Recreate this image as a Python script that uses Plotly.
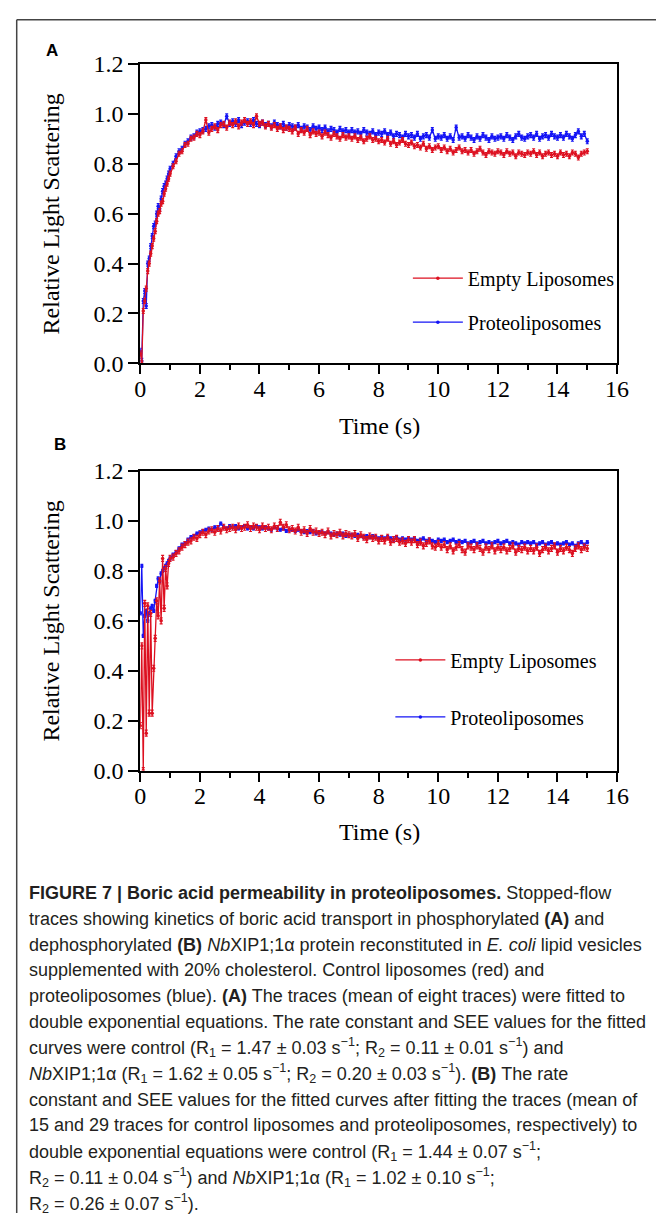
import plotly.graph_objects as go

# ---------------- data ----------------
time_s = [0.00, 0.05, 0.10, 0.15, 0.20, 0.25, 0.30, 0.35, 0.40, 0.45, 0.50,
          0.55, 0.60, 0.65, 0.70, 0.75, 0.80, 0.85, 0.90, 0.95, 1.00,
          1.1, 1.2, 1.3, 1.4, 1.5, 1.6, 1.7, 1.8, 1.9, 2.0,
          2.1, 2.2, 2.3, 2.4, 2.5, 2.6, 2.7, 2.8, 2.9, 3.0,
          3.1, 3.2, 3.3, 3.4, 3.5, 3.6, 3.7, 3.8, 3.9, 4.0,
          4.1, 4.2, 4.3, 4.4, 4.5, 4.6, 4.7, 4.8, 4.9, 5.0,
          5.1, 5.2, 5.3, 5.4, 5.5, 5.6, 5.7, 5.8, 5.9, 6.0,
          6.1, 6.2, 6.3, 6.4, 6.5, 6.6, 6.7, 6.8, 6.9, 7.0,
          7.1, 7.2, 7.3, 7.4, 7.5, 7.6, 7.7, 7.8, 7.9, 8.0,
          8.1, 8.2, 8.3, 8.4, 8.5, 8.6, 8.7, 8.8, 8.9, 9.0,
          9.1, 9.2, 9.3, 9.4, 9.5, 9.6, 9.7, 9.8, 9.9, 10.0,
          10.1, 10.2, 10.3, 10.4, 10.5, 10.6, 10.7, 10.8, 10.9, 11.0,
          11.1, 11.2, 11.3, 11.4, 11.5, 11.6, 11.7, 11.8, 11.9, 12.0,
          12.1, 12.2, 12.3, 12.4, 12.5, 12.6, 12.7, 12.8, 12.9, 13.0,
          13.1, 13.2, 13.3, 13.4, 13.5, 13.6, 13.7, 13.8, 13.9, 14.0,
          14.1, 14.2, 14.3, 14.4, 14.5, 14.6, 14.7, 14.8, 14.9, 15.0]

# Panel A
a_empty = [0.04, 0.00, 0.21, 0.25, 0.30, 0.37, 0.40, 0.44, 0.47, 0.50, 0.53,
           0.57, 0.60, 0.61, 0.64, 0.65, 0.68, 0.70, 0.72, 0.74, 0.76,
           0.79, 0.81, 0.84, 0.85, 0.875, 0.88, 0.90, 0.905, 0.92, 0.915,
           0.93, 0.975, 0.925, 0.94, 0.95, 0.935, 0.955, 0.96, 0.945, 0.965,
           0.955, 0.97, 0.95, 0.965, 0.975, 0.96, 0.97, 0.955, 0.99, 0.96,
           0.965, 0.95, 0.96, 0.945, 0.955, 0.94, 0.95, 0.935, 0.945, 0.94,
           0.93, 0.945, 0.92, 0.935, 0.925, 0.94, 0.915, 0.93, 0.92, 0.925,
           0.91, 0.925, 0.915, 0.905, 0.92, 0.91, 0.90, 0.915, 0.905, 0.91,
           0.90, 0.91, 0.895, 0.905, 0.89, 0.90, 0.91, 0.895, 0.90, 0.89,
           0.895, 0.885, 0.90, 0.88, 0.89, 0.875, 0.885, 0.895, 0.88, 0.875,
           0.885, 0.87, 0.875, 0.865, 0.88, 0.86, 0.87, 0.855, 0.865, 0.87,
           0.855, 0.865, 0.85, 0.86, 0.845, 0.855, 0.865, 0.85, 0.855, 0.845,
           0.855, 0.84, 0.85, 0.86, 0.845, 0.835, 0.85, 0.845, 0.84, 0.85,
           0.845, 0.835, 0.85, 0.84, 0.845, 0.83, 0.845, 0.84, 0.835, 0.845,
           0.84, 0.85, 0.835, 0.845, 0.83, 0.84, 0.845, 0.835, 0.84, 0.83,
           0.845, 0.835, 0.84, 0.83, 0.845, 0.84, 0.825, 0.84, 0.845, 0.85]
a_proteo = [0.05, 0.01, 0.25, 0.29, 0.23, 0.40, 0.42, 0.47, 0.51, 0.55, 0.56,
            0.60, 0.63, 0.62, 0.66, 0.69, 0.71, 0.72, 0.74, 0.76, 0.78,
            0.80, 0.83, 0.85, 0.86, 0.88, 0.89, 0.905, 0.91, 0.925, 0.93,
            0.935, 0.94, 0.95, 0.955, 0.945, 0.96, 0.965, 0.955, 0.99, 0.96,
            0.97, 0.96, 0.975, 0.955, 0.965, 0.97, 0.96, 0.975, 0.96, 0.955,
            0.965, 0.955, 0.96, 0.95, 0.965, 0.955, 0.95, 0.96, 0.945, 0.955,
            0.95, 0.945, 0.955, 0.94, 0.95, 0.945, 0.935, 0.95, 0.94, 0.945,
            0.935, 0.945, 0.93, 0.94, 0.935, 0.925, 0.94, 0.93, 0.935, 0.925,
            0.935, 0.925, 0.93, 0.92, 0.935, 0.925, 0.92, 0.93, 0.915, 0.925,
            0.92, 0.93, 0.915, 0.925, 0.91, 0.92, 0.915, 0.905, 0.92, 0.91,
            0.915, 0.905, 0.92, 0.90, 0.91, 0.915, 0.905, 0.935, 0.90, 0.91,
            0.905, 0.915, 0.90, 0.91, 0.895, 0.945, 0.905, 0.91, 0.90, 0.915,
            0.905, 0.895, 0.91, 0.90, 0.915, 0.905, 0.895, 0.91, 0.90, 0.905,
            0.91, 0.90, 0.915, 0.905, 0.895, 0.91, 0.92, 0.905, 0.90, 0.91,
            0.915, 0.905, 0.92, 0.90, 0.91, 0.915, 0.905, 0.92, 0.91, 0.905,
            0.915, 0.905, 0.92, 0.91, 0.90, 0.915, 0.93, 0.91, 0.92, 0.89]

# Panel B
b_empty = [0.18, 0.50, 0.00, 0.67, 0.15, 0.66, 0.23, 0.63, 0.23, 0.41, 0.53,
           0.68, 0.62, 0.76, 0.60, 0.85, 0.65, 0.81, 0.74, 0.83, 0.85,
           0.855, 0.87, 0.88, 0.895, 0.905, 0.915, 0.92, 0.935, 0.93, 0.945,
           0.955, 0.945, 0.96, 0.965, 0.955, 0.97, 0.96, 0.975, 0.965, 0.97,
           0.975, 0.965, 0.98, 0.97, 0.975, 0.985, 0.97, 0.98, 0.975, 0.965,
           0.98, 0.97, 0.975, 0.965, 0.98, 0.97, 0.995, 0.975, 0.985, 0.965,
           0.97, 0.96, 0.975, 0.955, 0.965, 0.95, 0.97, 0.955, 0.96, 0.95,
           0.955, 0.945, 0.96, 0.94, 0.95, 0.945, 0.955, 0.94, 0.95, 0.945,
           0.94, 0.95, 0.93, 0.945, 0.935, 0.925, 0.94, 0.93, 0.935, 0.92,
           0.93, 0.92, 0.935, 0.915, 0.925, 0.93, 0.915, 0.92, 0.91, 0.925,
           0.915, 0.925, 0.905, 0.915, 0.90, 0.91, 0.92, 0.90, 0.895, 0.91,
           0.895, 0.905, 0.885, 0.90, 0.88, 0.895, 0.905, 0.885, 0.875, 0.90,
           0.895, 0.885, 0.90, 0.89, 0.875, 0.895, 0.885, 0.90, 0.88, 0.895,
           0.885, 0.895, 0.88, 0.89, 0.90, 0.875, 0.89, 0.885, 0.895, 0.88,
           0.89, 0.88, 0.895, 0.87, 0.885, 0.895, 0.88, 0.89, 0.90, 0.875,
           0.89, 0.88, 0.895, 0.885, 0.87, 0.89, 0.90, 0.885, 0.895, 0.89]
b_proteo = [0.63, 0.82, 0.54, 0.62, 0.64, 0.60, 0.63, 0.65, 0.66, 0.64, 0.68,
            0.74, 0.77, 0.76, 0.79, 0.80, 0.81, 0.82, 0.83, 0.84, 0.85,
            0.865, 0.875, 0.89, 0.905, 0.91, 0.925, 0.935, 0.94, 0.95, 0.955,
            0.96, 0.965, 0.97, 0.965, 0.975, 0.97, 0.99, 0.975, 0.97, 0.98,
            0.975, 0.98, 0.97, 0.975, 0.98, 0.97, 0.975, 0.97, 0.98, 0.975,
            0.97, 0.975, 0.97, 0.965, 0.975, 0.97, 0.965, 0.97, 0.96, 0.965,
            0.965, 0.96, 0.965, 0.96, 0.955, 0.96, 0.955, 0.96, 0.95, 0.955,
            0.955, 0.95, 0.955, 0.95, 0.945, 0.95, 0.945, 0.95, 0.94, 0.945,
            0.945, 0.94, 0.945, 0.94, 0.935, 0.94, 0.935, 0.94, 0.935, 0.93,
            0.935, 0.93, 0.935, 0.93, 0.925, 0.935, 0.925, 0.93, 0.925, 0.93,
            0.925, 0.93, 0.92, 0.925, 0.93, 0.92, 0.925, 0.92, 0.915, 0.925,
            0.92, 0.925, 0.915, 0.92, 0.925, 0.915, 0.92, 0.915, 0.92, 0.91,
            0.915, 0.92, 0.91, 0.915, 0.92, 0.91, 0.915, 0.91, 0.915, 0.92,
            0.91, 0.915, 0.92, 0.91, 0.915, 0.91, 0.905, 0.915, 0.91, 0.915,
            0.91, 0.915, 0.905, 0.91, 0.915, 0.905, 0.91, 0.915, 0.905, 0.91,
            0.905, 0.91, 0.915, 0.905, 0.91, 0.90, 0.91, 0.915, 0.905, 0.915]

sem_a_empty = 0.010
sem_a_proteo = 0.010
sem_b_empty = 0.012
sem_b_proteo = 0.006

series_names = ["Empty Liposomes", "Proteoliposomes"]
x_ticks = [0, 2, 4, 6, 8, 10, 12, 14, 16]
y_ticks = [0.0, 0.2, 0.4, 0.6, 0.8, 1.0, 1.2]
y_ticklabels = ["0.0", "0.2", "0.4", "0.6", "0.8", "1.0", "1.2"]

caption_lines = [
    "<b>FIGURE 7 | Boric acid permeability in proteoliposomes.</b> Stopped-flow",
    "traces showing kinetics of boric acid transport in phosphorylated <b>(A)</b> and",
    "dephosphorylated <b>(B)</b> <i>Nb</i>XIP1;1α protein reconstituted in <i>E. coli</i> lipid vesicles",
    "supplemented with 20% cholesterol. Control liposomes (red) and",
    "proteoliposomes (blue). <b>(A)</b> The traces (mean of eight traces) were fitted to",
    "double exponential equations. The rate constant and SEE values for the fitted",
    "curves were control (R<sub>1</sub> = 1.47 ± 0.03 s<sup>−1</sup>; R<sub>2</sub> = 0.11 ± 0.01 s<sup>−1</sup>) and",
    "<i>Nb</i>XIP1;1α (R<sub>1</sub> = 1.62 ± 0.05 s<sup>−1</sup>; R<sub>2</sub> = 0.20 ± 0.03 s<sup>−1</sup>). <b>(B)</b> The rate",
    "constant and SEE values for the fitted curves after fitting the traces (mean of",
    "15 and 29 traces for control liposomes and proteoliposomes, respectively) to",
    "double exponential equations were control (R<sub>1</sub> = 1.44 ± 0.07 s<sup>−1</sup>;",
    "R<sub>2</sub> = 0.11 ± 0.04 s<sup>−1</sup>) and <i>Nb</i>XIP1;1α (R<sub>1</sub> = 1.02 ± 0.10 s<sup>−1</sup>;",
    "R<sub>2</sub> = 0.26 ± 0.07 s<sup>−1</sup>).",
]

# ---------------- styling ----------------
W, H = 668, 1226
RED = "#dd1020"
BLUE = "#1414f5"
SERIF = "Liberation Serif, Times New Roman, serif"
SANS = "Liberation Sans, Arial, sans-serif"


def px_x(p):
    return p / W


def px_y(p):
    return 1 - p / H


fig = go.Figure()

panels = [
    dict(xa="x", ya="y", legend="legend", empty=a_empty, proteo=a_proteo,
         se=sem_a_empty, sp=sem_a_proteo, tag="a"),
    dict(xa="x2", ya="y2", legend="legend2", empty=b_empty, proteo=b_proteo,
         se=sem_b_empty, sp=sem_b_proteo, tag="b"),
]

for p in panels:
    # blue first so red sits on top
    fig.add_trace(go.Scatter(
        x=time_s, y=p["proteo"], name=series_names[1], mode="lines+markers",
        xaxis=p["xa"], yaxis=p["ya"], legend=p["legend"],
        legendgroup=p["tag"] + "_p", legendrank=2,
        line=dict(color=BLUE, width=1.3),
        marker=dict(color=BLUE, size=3.5),
        error_y=dict(type="constant", value=p["sp"], color=BLUE,
                     thickness=1.2, width=1.5),
    ))
    fig.add_trace(go.Scatter(
        x=time_s, y=p["empty"], name=series_names[0], mode="lines+markers",
        xaxis=p["xa"], yaxis=p["ya"], legend=p["legend"],
        legendgroup=p["tag"] + "_e", legendrank=1,
        line=dict(color=RED, width=1.3),
        marker=dict(color=RED, size=3.5),
        error_y=dict(type="constant", value=p["se"], color=RED,
                     thickness=1.2, width=1.5),
    ))

x_dom = [px_x(138), px_x(628)]
common_x = dict(
    range=[0, 16], tickvals=x_ticks, ticks="outside", ticklen=9, tickwidth=2,
    tickcolor="black", showline=True, linecolor="black", linewidth=2,
    mirror=True, showgrid=False, zeroline=False, ticklabelstandoff=-6,
    tickfont=dict(family=SERIF, size=24, color="black"),
    minor=dict(dtick=1, tick0=0, ticks="outside", ticklen=5, tickwidth=2,
               tickcolor="black", showgrid=False),
)
common_y = dict(
    range=[0, 1.2], tickvals=y_ticks, ticktext=y_ticklabels, ticks="outside",
    ticklen=10, tickwidth=2, tickcolor="black", showline=True,
    linecolor="black", linewidth=2, mirror=True, showgrid=False,
    zeroline=False, tickfont=dict(family=SERIF, size=24, color="black"),
)

fig.update_layout(
    width=W, height=H, margin=dict(l=0, r=0, t=0, b=0),
    paper_bgcolor="white", plot_bgcolor="white",
    xaxis=dict(domain=x_dom, anchor="y", **common_x),
    yaxis=dict(domain=[px_y(358), px_y(52)], anchor="x", **common_y),
    xaxis2=dict(domain=x_dom, anchor="y2", **common_x),
    yaxis2=dict(domain=[px_y(774), px_y(468)], anchor="x2", **common_y),
    legend=dict(x=px_x(413), xanchor="left", y=px_y(251), yanchor="top",
                font=dict(family=SERIF, size=20, color="black"),
                bgcolor="rgba(0,0,0,0)", itemwidth=50, tracegroupgap=15,
                traceorder="grouped"),
    legend2=dict(x=px_x(395), xanchor="left", y=px_y(641), yanchor="top",
                 font=dict(family=SERIF, size=20, color="black"),
                 bgcolor="rgba(0,0,0,0)", itemwidth=50, tracegroupgap=28,
                 traceorder="grouped"),
    showlegend=True,
)

annotations = []
# panel letters
annotations.append(dict(text="<b>A</b>", x=px_x(47), y=px_y(38), xref="paper",
                        yref="paper", showarrow=False, xanchor="center",
                        yanchor="middle",
                        font=dict(family=SANS, size=17, color="black")))
annotations.append(dict(text="<b>B</b>", x=px_x(55), y=px_y(441), xref="paper",
                        yref="paper", showarrow=False, xanchor="center",
                        yanchor="middle",
                        font=dict(family=SANS, size=17, color="black")))
# axis titles
for yc, xt in [(205, 422), (621, 837)]:
    annotations.append(dict(text="Relative Light Scattering", x=px_x(46),
                            y=px_y(yc), xref="paper", yref="paper",
                            showarrow=False, textangle=-90, xanchor="center",
                            yanchor="middle",
                            font=dict(family=SERIF, size=24, color="black")))
    annotations.append(dict(text="Time (s)", x=px_x(384), y=px_y(xt),
                            xref="paper", yref="paper", showarrow=False,
                            xanchor="center", yanchor="middle",
                            font=dict(family=SERIF, size=24, color="black")))
# caption
for i, line in enumerate(caption_lines):
    annotations.append(dict(text=line, x=px_x(22), y=px_y(899 + 26.4 * i),
                            xref="paper", yref="paper", showarrow=False,
                            xanchor="left", yanchor="middle", align="left",
                            font=dict(family=SANS, size=18, color="#231f20")))
fig.update_layout(annotations=annotations)

# page frame (left and top rules)
fig.add_shape(type="line", xref="paper", yref="paper", x0=px_x(11), x1=1.0,
              y0=px_y(7), y1=px_y(7), line=dict(color="#444444", width=1.5))
fig.add_shape(type="line", xref="paper", yref="paper", x0=px_x(11), x1=px_x(11),
              y0=px_y(7), y1=0.0, line=dict(color="#444444", width=1.5))

fig.write_html(
    "out.html",
    config={"displayModeBar": False, "staticPlot": True},
    post_script=("document.documentElement.style.margin='0';"
                 "document.documentElement.style.padding='0';"
                 "document.body.style.margin='0';"
                 "document.body.style.padding='0';"
                 "document.documentElement.style.overflow='hidden';"),
)
